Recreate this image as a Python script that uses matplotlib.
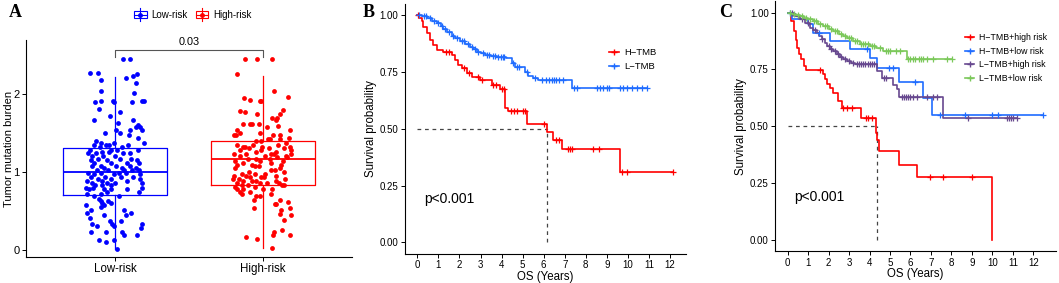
import numpy as np
import matplotlib
matplotlib.use("Agg")
import matplotlib.pyplot as plt
from matplotlib.lines import Line2D
from matplotlib.patches import Rectangle
from matplotlib.legend_handler import HandlerBase

plt.rcParams['font.family'] = ['Liberation Sans', 'DejaVu Sans']

# ---------------- Panel A: tumor mutation burden by risk group ----------------
groups = ["Low-risk", "High-risk"]

low_tmb = [2.44,2.44,2.27,2.27,2.25,2.22,2.20,2.18,2.14,2.03,2.01,1.91,1.91,1.91,1.91,1.89,1.89,1.89,1.80,1.77,
           1.71,1.66,1.66,1.63,1.60,1.57,1.57,1.54,1.54,1.53,1.50,1.50,1.47,1.44,1.40,1.37,1.37,1.37,1.34,1.34,
           1.34,1.34,1.32,1.32,1.28,1.28,1.28,1.28,1.26,1.26,1.24,1.24,1.24,1.24,1.20,1.20,1.20,1.17,1.17,1.17,
           1.15,1.15,1.15,1.11,1.11,1.11,1.11,1.08,1.08,1.08,1.08,1.05,1.05,1.05,1.02,1.02,1.02,1.02,1.02,0.99,
           0.99,0.99,0.99,0.97,0.97,0.97,0.94,0.94,0.94,0.94,0.91,0.91,0.91,0.89,0.89,0.89,0.86,0.86,0.86,0.86,
           0.83,0.83,0.83,0.80,0.80,0.80,0.78,0.78,0.78,0.78,0.75,0.75,0.72,0.72,0.69,0.69,0.66,0.63,0.63,0.61,
           0.61,0.58,0.58,0.55,0.52,0.52,0.47,0.47,0.45,0.45,0.41,0.38,0.38,0.34,0.34,0.34,0.31,0.31,0.28,0.23,
           0.23,0.23,0.20,0.20,0.13,0.13,0.11,0.02]
low_jit = [0.054,0.105,-0.168,-0.112,0.148,0.123,0.072,-0.092,0.143,-0.096,0.128,-0.092,-0.011,0.195,0.183,-0.134,0.116,-0.007,-0.107,0.036,
           -0.034,-0.141,0.123,0.02,0.159,0.145,0.172,0.007,0.105,0.181,-0.069,0.034,0.094,0.157,-0.128,0.195,-0.092,-0.007,-0.141,-0.063,
           -0.04,0.087,-0.103,0.049,-0.168,-0.029,0.016,0.154,-0.089,-0.04,-0.179,-0.13,0.056,0.105,-0.152,-0.081,0.004,-0.114,0.034,0.112,
           -0.163,-0.056,0.15,-0.141,-0.029,0.083,0.161,-0.152,-0.096,0.009,0.101,-0.074,0.045,0.145,-0.119,-0.045,0.06,0.116,0.163,-0.179,
           -0.092,0.029,0.078,-0.141,-0.007,0.172,-0.163,-0.065,0.038,0.121,-0.112,-0.029,0.172,-0.19,-0.085,0.083,-0.152,-0.051,-0.002,0.183,
           -0.132,-0.089,-0.029,-0.197,-0.15,0.183,-0.172,-0.074,-0.029,0.083,-0.051,0.161,-0.19,-0.096,-0.141,0.027,-0.105,-0.045,-0.096,-0.085,
           -0.029,-0.195,-0.074,-0.096,-0.163,0.06,-0.186,0.107,0.074,-0.074,-0.17,-0.034,0.038,-0.152,-0.018,0.183,-0.119,-0.007,0.179,-0.163,
           -0.06,0.049,0.15,0.06,-0.107,-0.007,-0.063,0.016]

high_tmb = [2.44,2.44,2.44,2.25,2.03,1.96,1.94,1.92,1.91,1.91,1.79,1.78,1.76,1.74,1.74,1.69,1.69,1.66,1.61,1.61,
            1.61,1.61,1.59,1.57,1.53,1.53,1.50,1.50,1.47,1.47,1.47,1.47,1.44,1.42,1.42,1.42,1.40,1.40,1.37,1.34,
            1.34,1.34,1.32,1.32,1.32,1.32,1.30,1.30,1.30,1.28,1.28,1.28,1.26,1.26,1.23,1.23,1.23,1.23,1.23,1.20,
            1.20,1.20,1.19,1.19,1.16,1.16,1.16,1.14,1.14,1.14,1.12,1.12,1.09,1.09,1.09,1.07,1.07,1.05,1.05,1.03,
            1.03,1.00,1.00,0.98,0.98,0.98,0.95,0.95,0.95,0.93,0.93,0.93,0.91,0.91,0.91,0.88,0.88,0.88,0.88,0.86,
            0.86,0.86,0.86,0.83,0.83,0.83,0.83,0.81,0.81,0.78,0.78,0.78,0.78,0.75,0.75,0.72,0.72,0.69,0.69,0.64,
            0.64,0.62,0.59,0.59,0.54,0.54,0.51,0.46,0.45,0.39,0.26,0.23,0.20,0.20,0.17,0.15,0.03]
high_jit = [-0.123,-0.038,0.058,-0.174,0.074,0.17,-0.13,-0.089,-0.018,-0.011,0.134,-0.157,-0.121,0.112,-0.038,0.06,0.096,0.089,-0.134,-0.089,
            -0.076,-0.027,0.101,0.027,0.183,-0.179,-0.157,-0.022,-0.195,-0.183,0.067,0.112,0.174,0.112,0.034,0.045,-0.051,-0.016,0.152,-0.179,
            -0.067,0.101,-0.134,-0.123,-0.004,0.179,-0.094,0.04,0.139,-0.157,-0.011,0.19,-0.045,0.089,-0.197,-0.116,0.051,0.072,0.186,-0.157,
            0.011,0.157,0.096,0.161,-0.101,-0.045,0.045,-0.19,-0.022,0.134,-0.134,0.056,-0.174,-0.078,0.123,-0.056,-0.027,-0.19,0.112,0.056,
            0.078,-0.094,0.139,-0.145,-0.056,0.011,-0.197,-0.112,0.089,-0.011,0.007,-0.089,-0.201,-0.161,0.145,-0.134,-0.072,-0.045,0.085,-0.174,
            -0.022,0.027,0.107,-0.145,-0.101,0.13,0.139,-0.19,-0.056,-0.174,-0.134,0.0,0.063,-0.157,-0.089,-0.139,0.056,-0.022,-0.045,-0.063,
            0.112,0.168,0.089,0.078,-0.06,0.179,0.123,0.112,0.19,0.141,0.13,0.074,0.067,0.179,-0.112,-0.038,0.063]

# box summaries: lower whisker, Q1, median, Q3, upper whisker
low_box = [0.01, 0.71, 1.00, 1.31, 2.21]
high_box = [0.03, 0.83, 1.16, 1.40, 2.23]
p_wilcox = "0.03"

# ---------------- Panel B: KM by TMB ----------------
htmb_t = [0, 0.1, 0.21, 0.29, 0.45, 0.6, 0.76, 0.92, 1.23, 1.63, 1.79, 1.95, 2.11, 2.34, 2.58, 2.98, 3.53, 3.93,
          4.18, 4.3, 5.19, 6.14, 6.46, 6.86, 9.63]
htmb_s = [1.0, 0.987, 0.974, 0.949, 0.919, 0.89, 0.868, 0.846, 0.839, 0.824, 0.802, 0.78, 0.766, 0.744, 0.729,
          0.714, 0.692, 0.674, 0.59, 0.578, 0.52, 0.487, 0.452, 0.409, 0.308]
htmb_cens = [0.05, 1.35, 1.5, 2.2, 2.45, 2.9, 3.05, 3.6, 3.75, 4.0, 4.1, 4.45, 4.6, 4.75, 5.0, 5.1, 6.03, 6.6, 6.75,
             7.17, 7.25, 7.33, 8.36, 8.64, 9.7, 9.94, 12.13]

ltmb_t = [0, 0.2, 0.45, 0.7, 0.92, 1.1, 1.23, 1.4, 1.63, 1.8, 2.03, 2.25, 2.5, 2.65, 2.82, 3.0, 3.21, 3.5, 3.77,
          4.2, 4.48, 4.64, 5.11, 5.27, 5.5, 5.75, 7.36]
ltmb_s = [1.0, 0.995, 0.988, 0.975, 0.963, 0.952, 0.94, 0.925, 0.909, 0.898, 0.886, 0.873, 0.861, 0.85, 0.839,
          0.831, 0.824, 0.82, 0.817, 0.812, 0.788, 0.773, 0.75, 0.733, 0.724, 0.714, 0.677]
ltmb_cens = [0.1, 0.3, 0.4, 0.6, 0.8, 1.0, 1.15, 1.3, 1.5, 1.7, 1.9, 2.1, 2.2, 2.4, 2.6, 2.75, 2.9, 3.1, 3.3, 3.4,
             3.6, 3.7, 3.85, 3.95, 4.05, 4.1, 4.55, 4.75, 4.85, 5.2, 5.6, 5.9, 6.1, 6.25, 6.4, 6.5, 6.6, 6.75, 6.9,
             7.46, 7.6, 8.52, 8.68, 8.8, 9.0, 9.12, 9.63, 9.78, 9.97, 10.18, 10.42, 10.65, 10.9]
median_b = 6.14

# ---------------- Panel C: KM by TMB + risk ----------------
hh_t = [0, 0.15, 0.3, 0.4, 0.47, 0.55, 0.65, 0.78, 0.9, 1.74, 1.82, 1.9, 2.05, 2.23, 2.47, 2.64, 3.6, 4.3, 4.36,
        4.45, 5.44, 6.33, 10.0]
hh_s = [1.0, 0.963, 0.92, 0.88, 0.845, 0.82, 0.794, 0.765, 0.746, 0.728, 0.706, 0.684, 0.67, 0.645, 0.612, 0.581,
        0.537, 0.47, 0.44, 0.39, 0.331, 0.276, 0.0]
hh_cens = [1.58, 2.72, 2.9, 3.13, 3.85, 3.94, 4.1, 6.95, 7.57, 8.99]

hl_t = [0, 0.19, 1.0, 1.25, 2.07, 3.04, 4.02, 4.35, 5.44, 6.63, 7.03]
hl_s = [1.0, 0.974, 0.95, 0.912, 0.876, 0.84, 0.80, 0.757, 0.695, 0.625, 0.548]
hl_cens = [0.1, 1.55, 3.86, 4.96, 5.16, 6.2, 7.44, 8.66, 9.97, 10.29, 12.49]

lh_t = [0, 0.3, 0.6, 0.85, 1.09, 1.25, 1.42, 1.55, 1.66, 1.8, 1.9, 2.05, 2.23, 2.4, 2.55, 2.7, 2.88, 3.1, 3.29,
        4.35, 4.6, 5.16, 5.32, 5.44, 7.6]
lh_s = [1.0, 0.985, 0.97, 0.956, 0.934, 0.925, 0.912, 0.897, 0.882, 0.868, 0.853, 0.842, 0.831, 0.818, 0.804,
        0.795, 0.787, 0.78, 0.772, 0.743, 0.713, 0.68, 0.662, 0.627, 0.536]
lh_cens = [0.2, 0.5, 0.7, 1.0, 1.35, 1.7, 2.0, 2.1, 2.3, 2.45, 2.6, 2.8, 3.0, 3.2, 3.4, 3.5, 3.6, 3.7, 3.8, 3.9,
           4.0, 4.1, 4.2, 4.7, 4.8, 5.6, 5.7, 5.8, 5.9, 6.0, 6.1, 6.3, 6.8, 7.1, 7.3, 8.82, 10.7, 10.8, 10.9, 11.0,
           11.19]

ll_t = [0, 0.2, 0.4, 0.6, 0.8, 1.0, 1.25, 1.5, 1.74, 2.0, 2.23, 2.5, 2.7, 2.88, 3.2, 3.53, 4.02, 4.3, 4.67, 5.81]
ll_s = [1.0, 0.996, 0.99, 0.985, 0.978, 0.97, 0.963, 0.952, 0.941, 0.93, 0.919, 0.905, 0.897, 0.89, 0.875, 0.862,
        0.853, 0.845, 0.83, 0.798]
ll_cens = [0.1, 0.3, 0.5, 0.7, 0.9, 1.1, 1.3, 1.4, 1.6, 1.8, 1.9, 2.1, 2.3, 2.4, 2.6, 2.8, 3.0, 3.1, 3.3, 3.4, 3.6,
           3.7, 3.8, 3.9, 4.1, 4.2, 4.5, 4.8, 4.9, 5.0, 5.3, 5.5, 5.9, 6.0, 6.1, 6.2, 6.4, 6.5, 6.6, 6.8, 7.1, 7.77,
           8.01]
median_c = 4.35

RED = '#FF0000'
BLUE = '#1F6CFF'
PURPLE = '#67488F'
GREEN = '#7BC85A'


def km_curve(ax, t, s, cens, color):
    t = np.asarray(t, float)
    s = np.asarray(s, float)
    end = max(t[-1], max(cens))
    tt = np.append(t, end)
    ss = np.append(s, s[-1])
    ax.step(tt, ss, where='post', color=color, lw=1.2, zorder=3)
    cens = np.asarray(cens, float)
    idx = np.searchsorted(t, cens, side='right') - 1
    ax.plot(cens, s[idx], ls='none', marker='+', ms=4.5, mew=0.9, color=color, zorder=4)


def style_axis(ax):
    for side in ['top', 'right']:
        ax.spines[side].set_visible(False)
    for side in ['left', 'bottom']:
        ax.spines[side].set_linewidth(0.8)
    ax.tick_params(length=3, width=0.7, labelsize=7, colors='black', pad=1.5)


class BoxKey(HandlerBase):
    def create_artists(self, legend, orig_handle, xdescent, ydescent, width, height, fontsize, trans):
        c = orig_handle.get_color()
        x0, w, h = -xdescent, width, height
        yc = -ydescent + h / 2
        rect = Rectangle((x0, yc - h * 0.45), w, h * 0.9, fill=False, ec=c, lw=0.8, transform=trans)
        vl = Line2D([x0 + w / 2] * 2, [yc - h * 0.8, yc + h * 0.8], color=c, lw=0.8, transform=trans)
        hl = Line2D([x0, x0 + w], [yc, yc], color=c, lw=0.8, transform=trans)
        dot = Line2D([x0 + w / 2], [yc], marker='o', ms=2.5, color=c, transform=trans)
        return [rect, vl, hl, dot]


fig = plt.figure(figsize=(10.59, 2.83), dpi=100)

# ---- A ----
axA = fig.add_axes([0.02455, 0.0919, 0.3078, 0.7668])
colsA = ['#0000FF', '#FF0000']
for i, (box, col) in enumerate(zip([low_box, high_box], colsA)):
    st = dict(whislo=box[0], q1=box[1], med=box[2], q3=box[3], whishi=box[4], fliers=[])
    axA.bxp([st], positions=[i + 1], widths=0.7, showfliers=False, showcaps=False,
            boxprops=dict(color=col, lw=0.9), whiskerprops=dict(color=col, lw=0.9),
            medianprops=dict(color=col, lw=1.3), manage_ticks=False, zorder=2)
axA.scatter(1 + np.array(low_jit), low_tmb, s=12, color=colsA[0], lw=0, zorder=3)
axA.scatter(2 + np.array(high_jit), high_tmb, s=12, color=colsA[1], lw=0, zorder=3)
axA.plot([1, 1, 2, 2], [2.47, 2.56, 2.56, 2.47], color='#555555', lw=0.8, clip_on=False)
axA.text(1.5, 2.6, p_wilcox, ha='center', va='bottom', fontsize=7.8, clip_on=False)
axA.set_xlim(0.4, 2.6)
axA.set_ylim(-0.086, 2.686)
axA.set_xticks([1, 2])
axA.set_xticklabels(groups)
axA.set_yticks([0, 1, 2])
axA.set_ylabel('Tumor mutation burden', fontsize=8)
style_axis(axA)
axA.tick_params(axis='x', labelsize=8.3)
axA.tick_params(axis='y', labelsize=8)
axA.yaxis.set_label_coords(-0.036, 0.5)
handlesA = [Line2D([], [], color=c) for c in colsA]
fig.legend(handlesA, groups, handler_map={Line2D: BoxKey()}, loc='center',
           bbox_to_anchor=(0.182, 0.947), ncol=2, frameon=False, fontsize=7,
           handlelength=1.3, handleheight=0.9, handletextpad=0.5, columnspacing=0.8)

# ---- B ----
axB = fig.add_axes([0.3820, 0.1035, 0.2654, 0.8837])
km_curve(axB, htmb_t, htmb_s, htmb_cens, RED)
km_curve(axB, ltmb_t, ltmb_s, ltmb_cens, BLUE)
axB.plot([0, median_b], [0.5, 0.5], ls=(0, (3, 3)), color='#444444', lw=0.9)
axB.plot([median_b, median_b], [0, 0.5], ls=(0, (3, 3)), color='#444444', lw=0.9)
axB.text(0.3, 0.19, 'p<0.001', fontsize=10, ha='left', va='center')
axB.set_xlim(-0.61, 12.74)
axB.set_ylim(-0.05, 1.05)
axB.set_xticks(range(13))
axB.set_yticks([0, 0.25, 0.5, 0.75, 1.0])
axB.set_yticklabels(['0.00', '0.25', '0.50', '0.75', '1.00'])
axB.set_xlabel('OS (Years)', fontsize=8.3, labelpad=0.5)
axB.set_ylabel('Survival probability', fontsize=8.3, labelpad=2)
style_axis(axB)
hB = [Line2D([], [], color=c, marker='+', ms=4.5, lw=1.2) for c in [RED, BLUE]]
axB.legend(hB, ['H\u2212TMB', 'L\u2212TMB'], loc='center left', bbox_to_anchor=(0.71, 0.775),
           frameon=False, fontsize=6.8, handlelength=1.1, handletextpad=0.5, labelspacing=0.55,
           borderpad=0)

# ---- C ----
axC = fig.add_axes([0.7318, 0.112, 0.2654, 0.8834])
km_curve(axC, hh_t, hh_s, hh_cens, RED)
km_curve(axC, hl_t, hl_s, hl_cens, BLUE)
km_curve(axC, lh_t, lh_s, lh_cens, PURPLE)
km_curve(axC, ll_t, ll_s, ll_cens, GREEN)
axC.plot([0, median_c], [0.5, 0.5], ls=(0, (3, 3)), color='#444444', lw=0.9)
axC.plot([median_c, median_c], [0, 0.5], ls=(0, (3, 3)), color='#444444', lw=0.9)
axC.text(0.3, 0.19, 'p<0.001', fontsize=10, ha='left', va='center')
axC.set_xlim(-0.62, 13.11)
axC.set_ylim(-0.05, 1.05)
axC.set_xticks(range(13))
axC.set_yticks([0, 0.25, 0.5, 0.75, 1.0])
axC.set_yticklabels(['0.00', '0.25', '0.50', '0.75', '1.00'])
axC.set_xlabel('OS (Years)', fontsize=8.3, labelpad=0.5)
axC.set_ylabel('Survival probability', fontsize=8.3, labelpad=2)
style_axis(axC)
hC = [Line2D([], [], color=c, marker='+', ms=4.5, lw=1.2) for c in [RED, BLUE, PURPLE, GREEN]]
axC.legend(hC, ['H\u2212TMB+high risk', 'H\u2212TMB+low risk', 'L\u2212TMB+high risk', 'L\u2212TMB+low risk'],
           loc='center left', bbox_to_anchor=(0.66, 0.773), frameon=False, fontsize=6.3,
           handlelength=1.1, handletextpad=0.5, labelspacing=0.55, borderpad=0)

# panel letters
for x, lab in [(0.008, 'A'), (0.342, 'B'), (0.679, 'C')]:
    fig.text(x, 0.985, lab, fontsize=13, fontweight='bold', family='Liberation Serif', va='top', ha='left')

fig.savefig('out.png', dpi=100)
